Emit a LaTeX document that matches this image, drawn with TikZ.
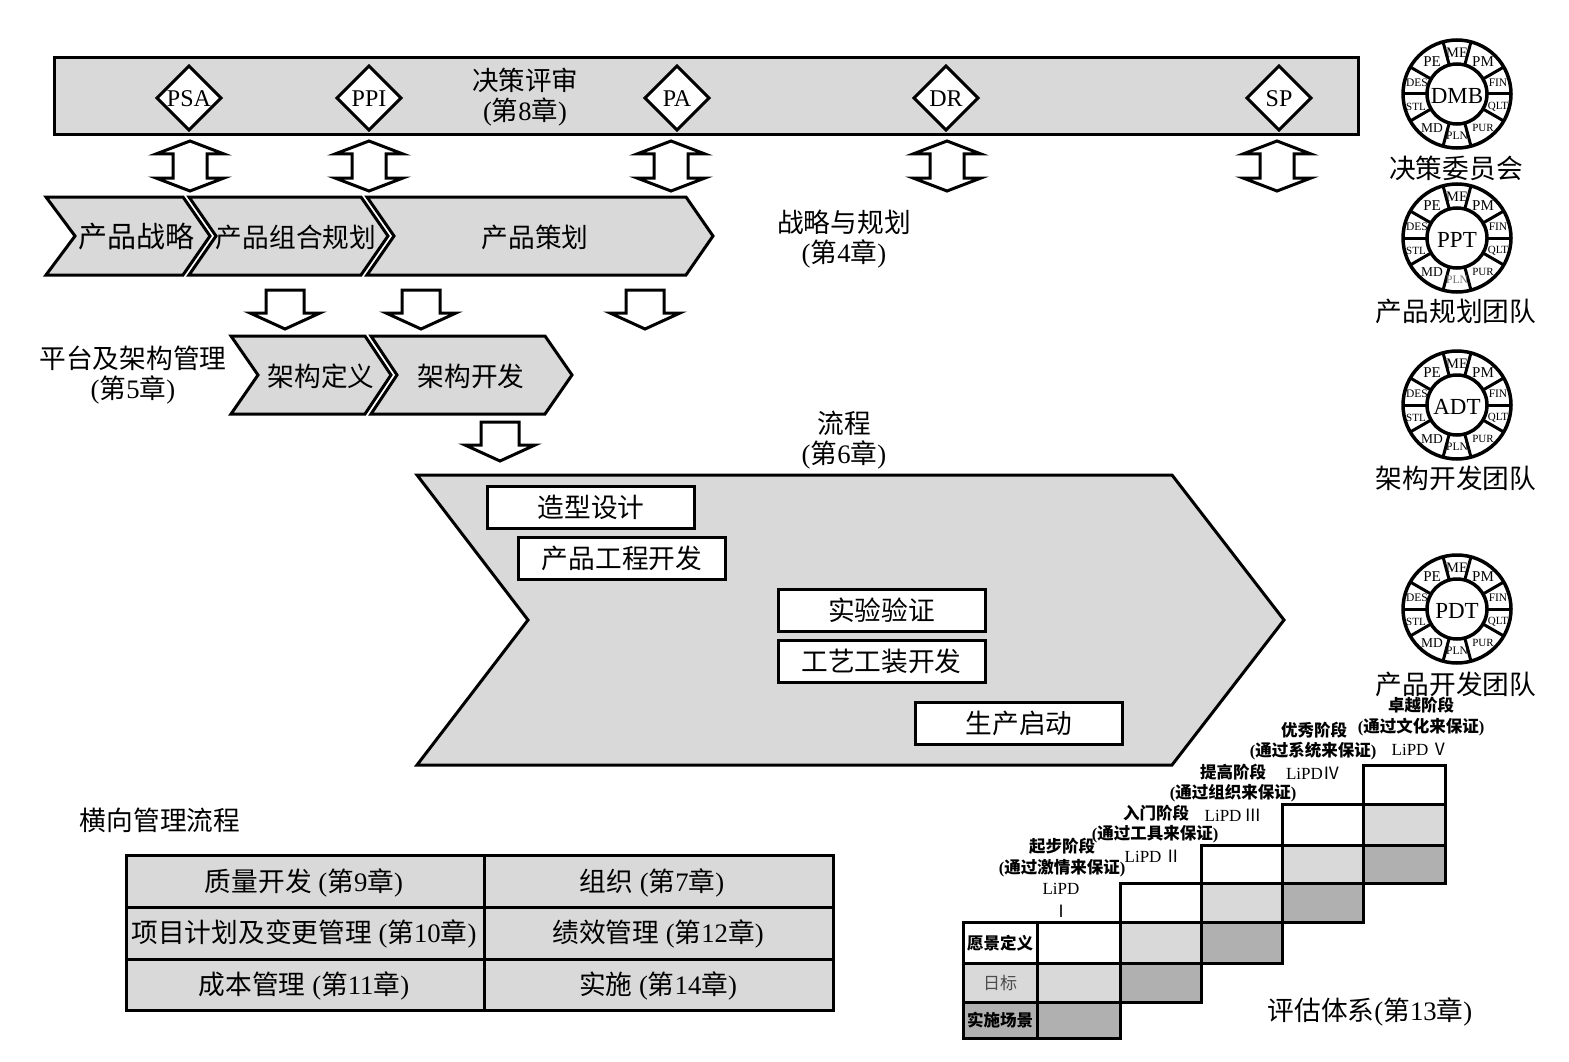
\documentclass[tikz,border=0pt]{standalone}
\usepackage{fontspec}
\setmainfont{Liberation Serif}
\newfontfamily\cjk{Noto Sans CJK SC}
\newcommand{\cj}[1]{{\cjk #1}}
\newcommand{\fsz}[1]{\fontsize{#1}{#1}\selectfont}
\definecolor{lg}{HTML}{D9D9D9}
\definecolor{dg}{HTML}{B0B0B0}
\tikzset{
  blk/.style={draw=black,line width=3pt,line join=miter},
  graybox/.style={blk,fill=lg},
  whitebox/.style={blk,fill=white},
  lbl/.style={inner sep=0pt,yshift=-1pt,font=\fsz{#1}},
  lbl/.default=26.7,
  stage/.style={inner sep=0pt,yshift=-0.5pt,font=\fsz{16.5}\bfseries},
  whitecell/.style={fill=white},
  lightcell/.style={fill=lg},
  darkcell/.style={fill=dg},
  pics/dblarrow/.style={code={\draw[whitebox] (0,-25)--(34,-12)--(17,-12)--(17,12)--(34,12)--(0,25)--(-34,12)--(-17,12)--(-17,-12)--(-34,-12)--cycle;}},
  pics/downarrow/.style={code={\draw[whitebox] (-19,0)--(19,0)--(19,23)--(35,23)--(0,39)--(-35,23)--(-19,23)--cycle;}},
}
% badge: name, cx, cy, text, colour of PLN
\newcommand{\badge}[5]{%
\begin{scope}[shift={(#2,#3)}]
  \draw[draw=black,line width=3.5pt,fill=white] (0,0) circle[radius=54];
  \foreach \a in {0,30,75,105,150,180,210,255,285,330}
    \draw[black,line width=3pt] (\a:30) -- (\a:54);
  \draw[draw=black,line width=3.5pt,fill=white] (0,0) circle[radius=30];
  \node[lbl=23] (#1c) at (0,1) {#4};
  \node[lbl=14.5] (#1me) at (0,-42) {ME};
  \node[lbl=15] (#1pe) at (-25,-33) {PE};
  \node[lbl=15] (#1pm) at (26,-33) {PM};
  \node[lbl=11.5] (#1des) at (-40,-12) {DES};
  \node[lbl=11.5] (#1fin) at (41,-12) {FIN};
  \node[lbl=11] (#1stl) at (-41,12) {STL};
  \node[lbl=11] (#1qlt) at (41,12) {QLT};
  \node[lbl=13.5] (#1md) at (-25,33) {MD};
  \node[lbl=11] (#1pur) at (26,33) {PUR};
  \node[lbl=11.5,text=#5] (#1pln) at (0,41) {PLN};
\end{scope}}
\begin{document}
\begin{tikzpicture}[x=1pt,y=-1pt]
\useasboundingbox (0,0) rectangle (1569,1062);
% top bar
\node[graybox,minimum width=1304pt,minimum height=77pt,inner sep=0pt] (bar) at (706,96.5) {};
\node[lbl=26.5] (t1) at (525,79) {\cj{决策评审}};
\node[lbl=26.5] (t2) at (525,111) {(\cj{第}8\cj{章})};
\foreach \n/\x/\s in {psa/189/PSA,ppi/369/PPI,pa/677/PA,dr/946/DR,sp/1279/SP}{
  \draw[whitebox] (\x,66)--(\x+32,98)--(\x,130)--(\x-32,98)--cycle;
  \node[lbl=24] (\n) at (\x,98) {\s};
}
% double arrows
\foreach \x in {190,369,671,947,1277} \pic at (\x,166) {dblarrow};
% chevrons row 1
\draw[graybox] (367,197)--(686,197)--(713,236)--(686,275)--(367,275)--(394,236)--cycle;
\draw[graybox] (189,197)--(361,197)--(388,236)--(361,275)--(189,275)--(216,236)--cycle;
\draw[graybox] (46,197)--(183,197)--(210,236)--(183,275)--(46,275)--(75,236)--cycle;
\node[lbl=29] (c1) at (136,236) {\cj{产品战略}};
\node[lbl] (c2) at (296,236) {\cj{产品组合规划}};
\node[lbl] (c3) at (535,236) {\cj{产品策划}};
\node[lbl] (sp1) at (844,221) {\cj{战略与规划}};
\node[lbl] (sp2) at (844,253) {(\cj{第}4\cj{章})};
% down arrows
\pic at (285,290) {downarrow};
\pic at (421,290) {downarrow};
\pic at (645,290) {downarrow};
\pic at (500,422) {downarrow};
% chevrons row 2
\draw[graybox] (371,336)--(545,336)--(572,375)--(545,414)--(371,414)--(397,375)--cycle;
\draw[graybox] (231,336)--(365,336)--(391,375)--(365,414)--(231,414)--(258,375)--cycle;
\node[lbl] (a1) at (321,375) {\cj{架构定义}};
\node[lbl] (a2) at (471,375) {\cj{架构开发}};
\node[lbl] (pl1) at (133,357) {\cj{平台及架构管理}};
\node[lbl] (pl2) at (133,389) {(\cj{第}5\cj{章})};
% process
\node[lbl] (fl1) at (844,422) {\cj{流程}};
\node[lbl] (fl2) at (844,454) {(\cj{第}6\cj{章})};
\draw[graybox] (417,475)--(1172,475)--(1284,620)--(1172,765)--(417,765)--(528,620)--cycle;
\foreach \n/\x/\y/\s in {b1/591/507/造型设计,b2/622/558/产品工程开发,b3/881.5/610/实验验证,b4/881.5/661/工艺工装开发,b5/1019/723/生产启动}
  \node[whitebox,minimum width=207pt,minimum height=42pt,inner sep=0pt,font=\fsz{26.7}\cjk] (\n) at (\x,\y) {\s};
% horizontal management
\node[lbl] (hm) at (160,819) {\cj{横向管理流程}};
\draw[graybox] (126,855) rectangle (833,1010);
\draw[blk] (484,855)--(484,1010) (126,907)--(833,907) (126,959)--(833,959);
\node[lbl] (h1) at (304,882) {\cj{质量开发} (\cj{第}9\cj{章})};
\node[lbl] (h2) at (304,933) {\cj{项目计划及变更管理} (\cj{第}10\cj{章})};
\node[lbl] (h3) at (304,985) {\cj{成本管理} (\cj{第}11\cj{章})};
\node[lbl] (h4) at (652,882) {\cj{组织} (\cj{第}7\cj{章})};
\node[lbl] (h5) at (658,933) {\cj{绩效管理} (\cj{第}12\cj{章})};
\node[lbl] (h6) at (658,985) {\cj{实施} (\cj{第}14\cj{章})};
% badges
\badge{dmb}{1457}{94}{DMB}{black}
\badge{ppt}{1457}{238}{PPT}{black!55}
\badge{adt}{1457}{405}{ADT}{black}
\badge{pdt}{1457}{609}{PDT}{black}
\node[lbl] (n1) at (1456,167) {\cj{决策委员会}};
\node[lbl] (n2) at (1456,310) {\cj{产品规划团队}};
\node[lbl] (n3) at (1456,477) {\cj{架构开发团队}};
\node[lbl] (n4) at (1456,683) {\cj{产品开发团队}};
% staircase
\foreach \xa/\xb/\ya/\yb/\yc/\yd in {963/1037/922/963/1002/1038,1037/1120/922/963/1002/1038,1120/1201/883/922/963/1002,1201/1282/845/883/922/963,1282/1363/804/845/883/922,1363/1445/765/804/845/883}{
  \fill[whitecell] (\xa,\ya) rectangle (\xb,\yb);
  \fill[lightcell] (\xa,\yb) rectangle (\xb,\yc);
  \fill[darkcell] (\xa,\yc) rectangle (\xb,\yd);
}
\draw[blk] (963,922) rectangle (1120,1038);
\draw[blk] (1037,922)--(1037,1038) (963,963)--(1120,963) (963,1002)--(1120,1002);
\foreach \xa/\xb/\ya/\yb/\yc/\yd in {1120/1201/883/922/963/1002,1201/1282/845/883/922/963,1282/1363/804/845/883/922,1363/1445/765/804/845/883}{
  \draw[blk] (\xa,\ya) rectangle (\xb,\yd);
  \draw[blk] (\xa,\yb)--(\xb,\yb) (\xa,\yc)--(\xb,\yc);
}
\node[stage] (r1) at (1000,943) {\cj{愿景定义}};
\node[lbl=17,text=black!70] (r2) at (1000,982) {\cj{日标}};
\node[stage] (r3) at (1000,1020) {\cj{实施场景}};
\node[stage] (s11) at (1062,846) {\cj{起步阶段}};
\node[stage] (s12) at (1062,868) {(\cj{通过激情来保证})};
\node[lbl=17] (s13) at (1061,888) {LiPD};
\node[lbl=17] (s14) at (1061,910) {\cj{Ⅰ}};
\node[stage] (s21) at (1156,813) {\cj{入门阶段}};
\node[stage] (s22) at (1155,834) {(\cj{通过工具来保证})};
\node[lbl=17] (s23) at (1153,855) {LiPD\,\cj{Ⅱ}};
\node[stage] (s31) at (1233,772) {\cj{提高阶段}};
\node[stage] (s32) at (1233,793) {(\cj{通过组织来保证})};
\node[lbl=17] (s33) at (1233,814) {LiPD\,\cj{Ⅲ}};
\node[stage] (s41) at (1314,730) {\cj{优秀阶段}};
\node[stage] (s42) at (1313,751) {(\cj{通过系统来保证})};
\node[lbl=17] (s43) at (1313,772) {LiPD\cj{Ⅳ}};
\node[stage] (s51) at (1421,705) {\cj{卓越阶段}};
\node[stage] (s52) at (1421,727) {(\cj{通过文化来保证})};
\node[lbl=17] (s53) at (1420,748) {LiPD\,\cj{Ⅴ}};
\node[lbl] (ev) at (1370,1011) {\cj{评估体系}(\cj{第}13\cj{章})};
\end{tikzpicture}
\end{document}
